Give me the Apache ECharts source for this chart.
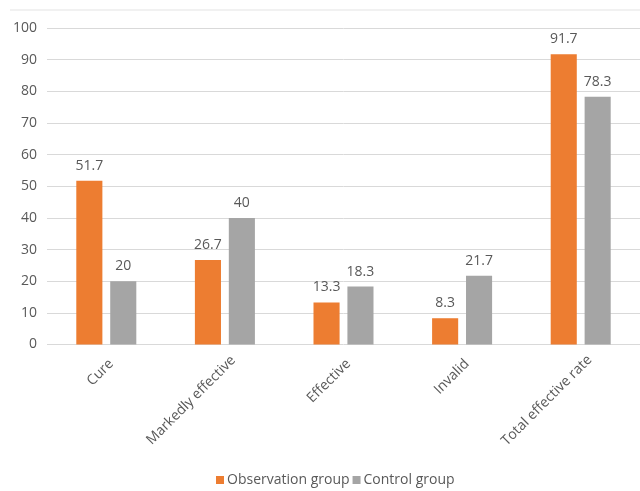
<!DOCTYPE html>
<html><head><meta charset="utf-8">
<script src="https://cdn.jsdelivr.net/npm/echarts@6/dist/echarts.min.js"></script>
<style>html,body{margin:0;padding:0;background:#fff}#c{width:640px;height:491px}</style>
</head><body><div id="c"></div>
<script>
var categories = ['Cure', 'Markedly effective', 'Effective', 'Invalid', 'Total effective rate'];
var observation = [51.7, 26.7, 13.3, 8.3, 91.7];
var control = [20, 40, 18.3, 21.7, 78.3];
var seriesNames = ['Observation group', 'Control group'];
var yTicks = {min: 0, max: 100, interval: 10};

// small per-label horizontal nudges (px) to mimic the original label placement
var labelNudge = [0, 7, 0, 0, 8];

var font = 'Open Sans';
var chart = echarts.init(document.getElementById('c'));
var lbl = {show: true, position: 'top', distance: 8, color: '#595959', fontSize: 14, fontFamily: font};
var catData = categories.map(function (c, i) {
  var d = labelNudge[i] / Math.SQRT2;
  return {value: c, textStyle: {padding: [14 + 2 * d, -7 - d, 0, 0]}};
});
chart.setOption({
  animation: false,
  textStyle: {fontFamily: font},
  grid: {left: 47, right: -8, top: 28, bottom: 146.5, containLabel: false},
  legend: {
    top: 472, left: 216, itemWidth: 8, itemHeight: 8, itemGap: 3, icon: 'rect', padding: 0,
    textStyle: {color: '#595959', fontSize: 14, lineHeight: 16, fontFamily: font, padding: [0, 0, 0, -2]},
    data: seriesNames
  },
  xAxis: {
    type: 'category', data: catData,
    axisLine: {show: false}, axisTick: {show: false},
    axisLabel: {rotate: 45, color: '#595959', fontSize: 14, fontFamily: font, margin: 22, interval: 0,
      padding: [14, -7, 0, 0]}
  },
  yAxis: {
    type: 'value', min: yTicks.min, max: yTicks.max, interval: yTicks.interval,
    axisLine: {show: false}, axisTick: {show: false},
    axisLabel: {color: '#595959', fontSize: 14, fontFamily: font, margin: 10},
    splitLine: {lineStyle: {color: '#D9D9D9', width: 1}}
  },
  graphic: [{type: 'line', shape: {x1: 10, y1: 10, x2: 640, y2: 10}, style: {stroke: '#E3E3E3', lineWidth: 1}, silent: true}],
  series: [
    {name: seriesNames[0], type: 'bar', data: observation, barWidth: '22%', barGap: '30%',
     itemStyle: {color: '#ED7D31'}, label: lbl},
    {name: seriesNames[1], type: 'bar', data: control, barWidth: '22%', barGap: '30%',
     itemStyle: {color: '#A5A5A5'}, label: lbl}
  ]
});
</script></body></html>
